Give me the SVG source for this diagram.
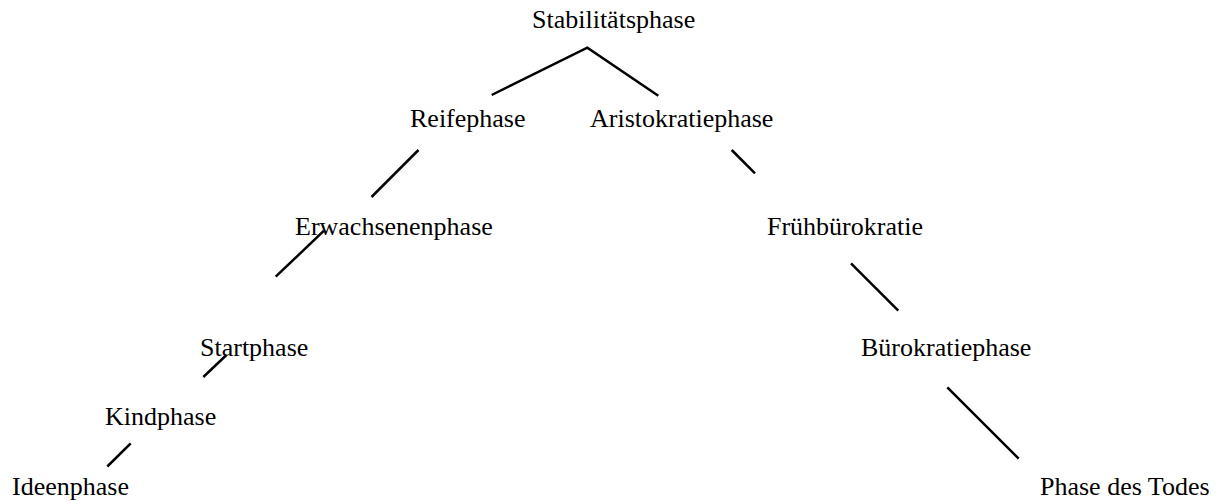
<svg xmlns="http://www.w3.org/2000/svg" width="1224" height="502" viewBox="0 0 1224 502">
<style>
  .lbl { font-family: "Liberation Serif", "Times New Roman", serif; font-size: 26px; fill: #000; }
  .edge { stroke: #000; stroke-width: 2.5; fill: none; stroke-linecap: butt; stroke-linejoin: miter; }
</style>
<rect width="1224" height="502" fill="#fff"/>
<g id="connectors">
  <polyline class="edge" points="491.7,95 587.3,47.7 658.3,95.7"/>
  <line class="edge" x1="371.5" y1="197" x2="418.5" y2="150"/>
  <line class="edge" x1="275.7" y1="276.7" x2="324" y2="230.7"/>
  <line class="edge" x1="203.3" y1="377" x2="226.5" y2="355"/>
  <line class="edge" x1="107.3" y1="466.5" x2="130.7" y2="443.3"/>
  <line class="edge" x1="731.7" y1="150" x2="755" y2="173.3"/>
  <line class="edge" x1="851" y1="263.3" x2="898.3" y2="310.7"/>
  <line class="edge" x1="947.3" y1="387.3" x2="1018.7" y2="458.7"/>
</g>
<g id="stabilitaetsphase"><text class="lbl" x="532" y="28">Stabilitätsphase</text></g>
<g id="reifephase"><text class="lbl" x="410" y="127">Reifephase</text></g>
<g id="aristokratiephase"><text class="lbl" x="590" y="127">Aristokratiephase</text></g>
<g id="erwachsenenphase"><text class="lbl" x="295" y="235">Erwachsenenphase</text></g>
<g id="fruehbuerokratie"><text class="lbl" x="767" y="235">Frühbürokratie</text></g>
<g id="startphase"><text class="lbl" x="200" y="356">Startphase</text></g>
<g id="buerokratiephase"><text class="lbl" x="861" y="356">Bürokratiephase</text></g>
<g id="kindphase"><text class="lbl" x="105" y="425">Kindphase</text></g>
<g id="ideenphase"><text class="lbl" x="12" y="495">Ideenphase</text></g>
<g id="phase-des-todes"><text class="lbl" x="1040" y="495">Phase des Todes</text></g>
</svg>
